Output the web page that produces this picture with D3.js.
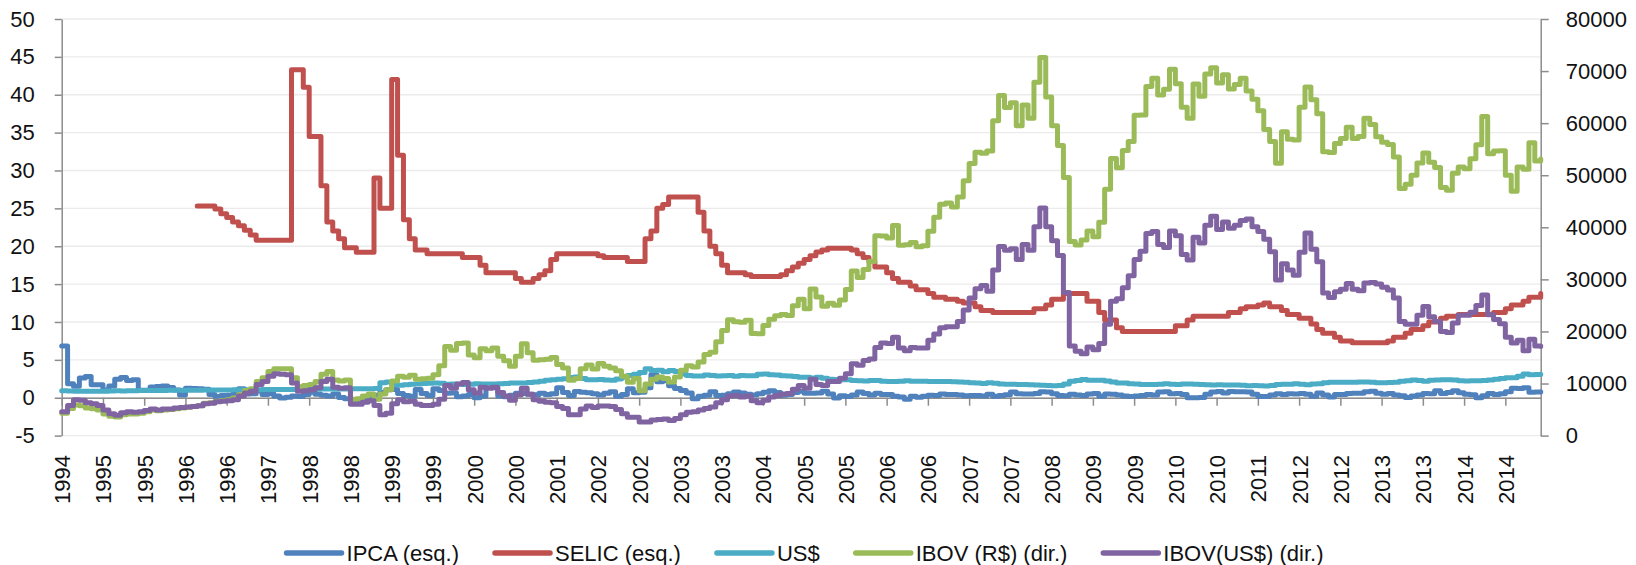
<!DOCTYPE html>
<html>
<head>
<meta charset="utf-8">
<script src="https://cdn.jsdelivr.net/npm/d3@7"></script>
<style>
  body { margin: 0; background: #fff; }
  svg { display: block; font-family: "Liberation Sans", Arial, sans-serif; }
</style>
</head>
<body>
<svg id="chart" width="1636" height="565"></svg>
<script>
// monthly series, Jul 1994 .. Jun 2015 (one row per year)
var ipca = [
  6.84,1.86,1.53,2.62,2.81,1.71,
  1.70,1.02,1.55,2.43,2.67,2.26,2.36,0.99,0.99,1.41,1.47,1.56,
  1.34,1.03,0.35,1.26,1.22,1.19,1.11,0.44,0.15,0.30,0.32,0.47,
  1.18,0.50,0.51,0.88,0.41,0.54,0.22,-0.02,0.06,0.23,0.17,0.43,
  0.71,0.46,0.34,0.24,0.50,0.02,-0.12,-0.51,-0.22,0.02,-0.12,0.33,
  0.70,1.05,1.10,0.56,0.30,0.19,1.09,0.56,0.31,1.19,0.95,0.60,
  0.62,0.13,0.22,0.42,0.01,0.23,1.61,1.31,0.23,0.14,0.32,0.59,
  0.57,0.46,0.38,0.58,0.41,0.52,1.33,0.70,0.28,0.83,0.71,0.65,
  0.52,0.36,0.60,0.80,0.21,0.42,1.19,0.65,0.72,1.31,3.02,2.10,
  2.25,1.57,1.23,0.97,0.61,-0.15,0.20,0.34,0.78,0.29,0.34,0.52,
  0.76,0.61,0.47,0.37,0.51,0.71,0.91,0.69,0.33,0.44,0.69,0.86,
  0.58,0.59,0.61,0.87,0.49,-0.02,0.25,0.17,0.35,0.75,0.55,0.36,
  0.59,0.41,0.43,0.21,0.10,-0.21,0.19,0.05,0.21,0.33,0.31,0.48,
  0.44,0.44,0.37,0.25,0.28,0.28,0.24,0.47,0.18,0.30,0.38,0.74,
  0.54,0.49,0.48,0.55,0.79,0.74,0.53,0.28,0.26,0.45,0.36,0.28,
  0.48,0.55,0.20,0.48,0.47,0.36,0.24,0.15,0.24,0.28,0.41,0.37,
  0.75,0.78,0.52,0.57,0.43,0.00,0.01,0.04,0.45,0.75,0.83,0.63,
  0.83,0.80,0.79,0.77,0.47,0.15,0.16,0.37,0.53,0.43,0.52,0.50,
  0.56,0.45,0.21,0.64,0.36,0.08,0.43,0.41,0.57,0.59,0.60,0.79,
  0.86,0.60,0.47,0.55,0.37,0.26,0.03,0.24,0.35,0.57,0.54,0.92,
  0.55,0.69,0.92,0.67,0.46,0.40,0.01,0.25,0.57,0.42,0.51,0.78,
  1.24,1.22,1.32,0.71,0.74,0.79
];

var selic = [
  null,null,null,null,null,null,
  null,null,null,null,null,null,null,null,null,null,null,null,
  null,null,null,null,null,25.3,25.3,25.3,24.9,24.3,23.8,23.2,
  22.7,22.1,21.5,20.8,20.8,20.8,20.8,20.8,20.8,43.3,43.3,41.0,
  34.5,34.5,28.0,23.2,22.0,21.0,19.8,19.8,19.2,19.2,19.2,29.0,
  25.0,25.0,42.0,32.0,23.5,21.0,19.5,19.5,19.0,19.0,19.0,19.0,
  19.0,19.0,18.5,18.5,18.5,17.5,16.5,16.5,16.5,16.5,16.5,15.75,
  15.25,15.25,15.75,16.25,16.75,18.25,19,19,19,19,19,19,
  19,18.75,18.5,18.5,18.5,18.5,18,18,18,21,22,25,
  25.5,26.5,26.5,26.5,26.5,26.5,24.5,22,20,19,17.5,16.5,
  16.5,16.5,16.25,16,16,16,16,16,16.25,16.75,17.25,17.75,
  18.25,18.75,19.25,19.5,19.75,19.75,19.75,19.75,19.5,19,18.5,18,
  17.25,17.25,16.5,15.75,15.25,15.25,14.75,14.25,14.25,13.75,13.25,13.25,
  13,13,12.75,12.5,12.5,12,11.5,11.5,11.25,11.25,11.25,11.25,
  11.25,11.25,11.25,11.75,11.75,12.25,13,13,13.75,13.75,13.75,13.75,
  12.75,12.75,11.25,10.25,10.25,9.25,8.75,8.75,8.75,8.75,8.75,8.75,
  8.75,8.75,8.75,9.5,9.5,10.25,10.75,10.75,10.75,10.75,10.75,10.75,
  11.25,11.25,11.75,12,12,12.25,12.5,12,12,11.5,11,11,
  10.5,10.5,9.75,9,8.5,8.5,8,7.5,7.5,7.25,7.25,7.25,
  7.25,7.25,7.25,7.5,8,8,8.5,9,9,9.5,10,10,
  10.5,10.75,10.75,11,11,11,11,11,11,11.25,11.25,11.75,
  12.25,12.25,12.75,13.25,13.25,13.75
];

var usd = [
  0.93,0.90,0.86,0.84,0.84,0.85,
  0.85,0.84,0.89,0.91,0.90,0.91,0.93,0.94,0.95,0.96,0.96,0.97,
  0.98,0.98,0.99,0.99,1.00,1.00,1.01,1.02,1.02,1.02,1.03,1.04,
  1.04,1.05,1.06,1.06,1.07,1.08,1.08,1.09,1.10,1.10,1.11,1.12,
  1.12,1.13,1.14,1.14,1.15,1.16,1.16,1.17,1.18,1.19,1.19,1.21,
  1.98,2.06,1.72,1.66,1.72,1.77,1.80,1.88,1.90,1.95,1.92,1.79,
  1.80,1.78,1.74,1.77,1.83,1.80,1.80,1.81,1.84,1.88,1.95,1.96,
  1.95,2.00,2.09,2.19,2.30,2.38,2.43,2.51,2.67,2.74,2.54,2.36,
  2.38,2.42,2.35,2.32,2.48,2.71,2.93,3.11,3.34,3.81,3.58,3.63,
  3.44,3.59,3.45,3.12,2.95,2.88,2.88,3.00,2.92,2.86,2.91,2.93,
  2.85,2.93,2.91,2.91,3.10,3.13,3.04,3.00,2.89,2.86,2.79,2.72,
  2.69,2.60,2.71,2.58,2.45,2.41,2.37,2.36,2.29,2.25,2.21,2.28,
  2.27,2.16,2.15,2.13,2.18,2.25,2.19,2.16,2.17,2.15,2.15,2.15,
  2.14,2.10,2.09,2.03,1.98,1.93,1.88,1.97,1.90,1.80,1.77,1.78,
  1.76,1.73,1.71,1.69,1.66,1.62,1.59,1.61,1.80,2.17,2.26,2.39,
  2.31,2.31,2.31,2.21,2.06,1.96,1.93,1.84,1.82,1.74,1.73,1.75,
  1.78,1.84,1.79,1.76,1.81,1.81,1.77,1.76,1.72,1.68,1.71,1.69,
  1.67,1.67,1.66,1.59,1.61,1.59,1.56,1.60,1.75,1.77,1.79,1.84,
  1.79,1.72,1.80,1.85,1.99,2.05,2.03,2.03,2.03,2.03,2.07,2.08,
  2.03,1.97,1.98,2.00,2.03,2.17,2.25,2.34,2.27,2.19,2.30,2.35,
  2.38,2.38,2.33,2.23,2.22,2.24,2.23,2.27,2.33,2.45,2.55,2.64,
  2.63,2.82,3.14,3.04,3.06,3.11
];

var ibovBRL = [
  4300,5200,5900,5750,5300,5150,
  4900,4150,3700,3570,4000,4150,4150,4300,4600,4900,4750,4900,
  5000,5150,5300,5450,5600,5750,6200,6300,6600,6750,6900,7200,
  7900,8650,9000,10400,11100,12300,12850,12850,12850,11100,9400,9600,
  9800,10400,11800,12300,10700,10500,10700,7000,7100,7600,8000,7000,
  8000,8800,10500,11400,11200,11600,10800,10900,11000,11700,13400,17100,
  16400,17700,17800,15500,14950,16700,16300,16800,15250,14350,13300,15250,
  17650,15900,14450,14550,14650,15000,13650,13000,10650,10950,12850,13550,
  12800,13850,13300,13000,12450,11400,10250,10950,8600,9900,10800,11250,
  10950,10300,11250,12550,13400,13150,14150,15550,16000,18000,20200,22250,
  21850,21750,22150,19600,19550,21150,22350,23000,23250,23050,24950,26200,
  24350,28150,26600,24850,25400,25050,26050,28050,31600,30350,31900,33450,
  38400,38350,37950,40350,36550,36650,37100,36250,36450,39250,41950,44450,
  44650,43900,45800,48950,52250,54400,54200,54650,60450,65300,63000,63900,
  59500,63500,60950,67850,72600,65000,59500,55700,49550,37250,36600,37550,
  39300,38200,40950,47300,53200,51450,54750,56500,61500,61550,67050,68600,
  65400,66500,70350,67550,63050,60950,67500,65150,69450,70650,67700,69300,
  66550,67400,68600,66150,64600,62400,58800,56500,52300,58350,56900,56750,
  63050,66950,64500,61800,54500,54350,56100,57050,59200,57050,57450,60950,
  59750,57400,56350,55900,53500,47450,48250,50000,52350,54250,52500,51500,
  47650,47100,50400,51600,51250,53150,55850,61300,54100,54650,54700,50000,
  46900,51600,51150,56250,52750,53100
];

var ibovUSD = [
  4600,5800,6900,6800,6300,6100,
  5800,4900,4200,3900,4400,4600,4500,4600,4800,5100,4900,5100,
  5100,5300,5400,5500,5600,5750,6100,6200,6500,6600,6700,6900,
  7600,8200,8500,9800,10400,11400,11900,11800,11700,10100,8500,8600,
  8800,9200,10400,10800,9300,9100,9200,6000,6000,6400,6700,5800,
  4000,4300,6100,6900,6500,6600,6000,5800,5800,6000,7000,9600,
  9100,9900,10200,8800,8200,9300,9100,9300,8300,7600,6800,7800,
  9100,7950,6900,6600,6400,6300,5600,5200,4000,4000,5100,5700,
  5400,5700,5700,5600,5000,4200,3500,3500,2600,2600,3000,3100,
  3200,2900,3300,4000,4500,4600,4900,5200,5500,6300,6900,7600,
  7700,7400,7600,6700,6300,6800,7400,7700,8000,8100,8900,9600,
  9100,10800,9800,9600,10400,10400,11000,11900,13800,13500,14400,14700,
  16900,17800,17700,18900,16800,16300,16900,16800,16800,18300,19500,20700,
  20900,20900,21900,24100,26400,28200,28800,27700,31800,36300,35600,35900,
  33800,36700,35600,40100,43700,40100,37400,34600,27500,17200,16200,15700,
  17000,16500,17700,21400,25800,26300,28400,30700,33800,35400,38800,39200,
  36700,36100,39300,38400,34800,33700,38100,37000,40400,42100,39600,41000,
  39800,40400,41300,41600,40100,39200,37700,35300,29900,33000,31800,30800,
  35200,38900,35800,33400,27400,26500,27600,28100,29200,28100,27800,29300,
  29400,29100,28500,27950,26400,21900,21400,21400,23100,24800,22800,21900,
  20000,19800,21600,23100,23100,23700,25000,27000,23200,22300,21500,18900,
  17800,18300,16300,18500,17200,17100
];

var seriesNames = ["IPCA (esq.)", "SELIC (esq.)", "US$", "IBOV (R$) (dir.)", "IBOV(US$) (dir.)"];
var seriesColors = ["#4F81BD", "#C0504D", "#4BACC6", "#9BBB59", "#8064A2"];
var leftTicks = d3.range(-5, 51, 5);
var rightTicks = d3.range(0, 80001, 10000);

// one category per month starting Jul 1994
var months = ipca.map(function(d, k){
  var m = 6 + k;
  return { year: 1994 + Math.floor(m / 12), month: (m % 12) + 1 };
});
var tickIdx = d3.range(0, months.length, 7);

var svg = d3.select("#chart");
var axisColor = "#8c8c8c";
var plotLeft = 61.7, plotRight = 1540.7, plotTop = 19, plotBottom = 435.6;

var x = d3.scaleLinear().domain([0, months.length - 1]).range([plotLeft, plotRight]);
var yL = d3.scaleLinear().domain([-5, 50]).range([plotBottom, plotTop]);
var yR = d3.scaleLinear().domain([0, 80000]).range([plotBottom, plotTop]);

//horizontal gridlines
svg.append("g").selectAll("line")
  .data(leftTicks)
  .enter().append("line")
  .attr("x1", plotLeft).attr("x2", plotRight)
  .attr("y1", d => yL(d)).attr("y2", d => yL(d))
  .attr("stroke", "#ebebeb")
  .attr("stroke-width", 1.4);

function styleAxis(g){
  g.attr("font-family", null).attr("font-size", 22);
  g.select(".domain").attr("stroke", axisColor).attr("stroke-width", 1.5);
  g.selectAll(".tick line").attr("stroke", axisColor).attr("stroke-width", 1.5);
  g.selectAll(".tick text").attr("fill", "#111");
}

var gL = svg.append("g")
  .attr("transform", "translate(" + plotLeft + ",0)")
  .call(d3.axisLeft(yL).tickValues(leftTicks).tickSize(7).tickSizeOuter(0).tickPadding(20).tickFormat(d => String(d)));
styleAxis(gL);

var gR = svg.append("g")
  .attr("transform", "translate(" + plotRight + ",0)")
  .call(d3.axisRight(yR).tickValues(rightTicks).tickSize(8).tickSizeOuter(0).tickPadding(17).tickFormat(d => String(d)));
styleAxis(gR);

//category axis crosses at zero, labels sit below the plot
var gX = svg.append("g")
  .attr("transform", "translate(0," + yL(0) + ")")
  .call(d3.axisBottom(x).tickValues(tickIdx).tickSize(8).tickSizeOuter(0).tickFormat(i => String(months[i].year)));
styleAxis(gX);
gX.selectAll(".tick text")
  .attr("transform", "rotate(-90)")
  .attr("x", -(455 - yL(0)))
  .attr("y", 0)
  .attr("dy", "0.36em")
  .attr("text-anchor", "end");

//series
var stepLine = function(scale){
  return d3.line()
    .defined(d => d != null)
    .x((d, i) => x(i))
    .y(d => scale(d))
    .curve(d3.curveStepAfter);
};

var series = [
  { values: ipca, scale: yL },
  { values: selic, scale: yL },
  { values: usd, scale: yL },
  { values: ibovBRL, scale: yR },
  { values: ibovUSD, scale: yR }
];

series.forEach(function(s, k){
  svg.append("path")
    .attr("d", stepLine(s.scale)(s.values))
    .attr("fill", "none")
    .attr("stroke", seriesColors[k])
    .attr("stroke-width", 5)
    .attr("stroke-linejoin", "round")
    .attr("stroke-linecap", "round");
});

//legend
var legend = svg.append("g");
var legendY = 553, lineLen = 55, gap = 36;
var items = legend.selectAll("g")
  .data(seriesNames)
  .enter().append("g");
items.append("line")
  .attr("x1", 0).attr("x2", lineLen)
  .attr("y1", legendY).attr("y2", legendY)
  .attr("stroke", (d, i) => seriesColors[i])
  .attr("stroke-width", 5.5)
  .attr("stroke-linecap", "round");
items.append("text")
  .attr("x", lineLen + 5)
  .attr("y", legendY)
  .attr("dy", "0.35em")
  .attr("font-size", 22)
  .attr("fill", "#111")
  .text(d => d);

var widths = [];
items.each(function(){ widths.push(lineLen + 5 + d3.select(this).select("text").node().getComputedTextLength()); });
var total = d3.sum(widths) + gap * (widths.length - 1);
var pos = 805 - total / 2;
items.attr("transform", function(d, i){
  var t = "translate(" + pos + ",0)";
  pos += widths[i] + gap;
  return t;
});
</script>
</body>
</html>
